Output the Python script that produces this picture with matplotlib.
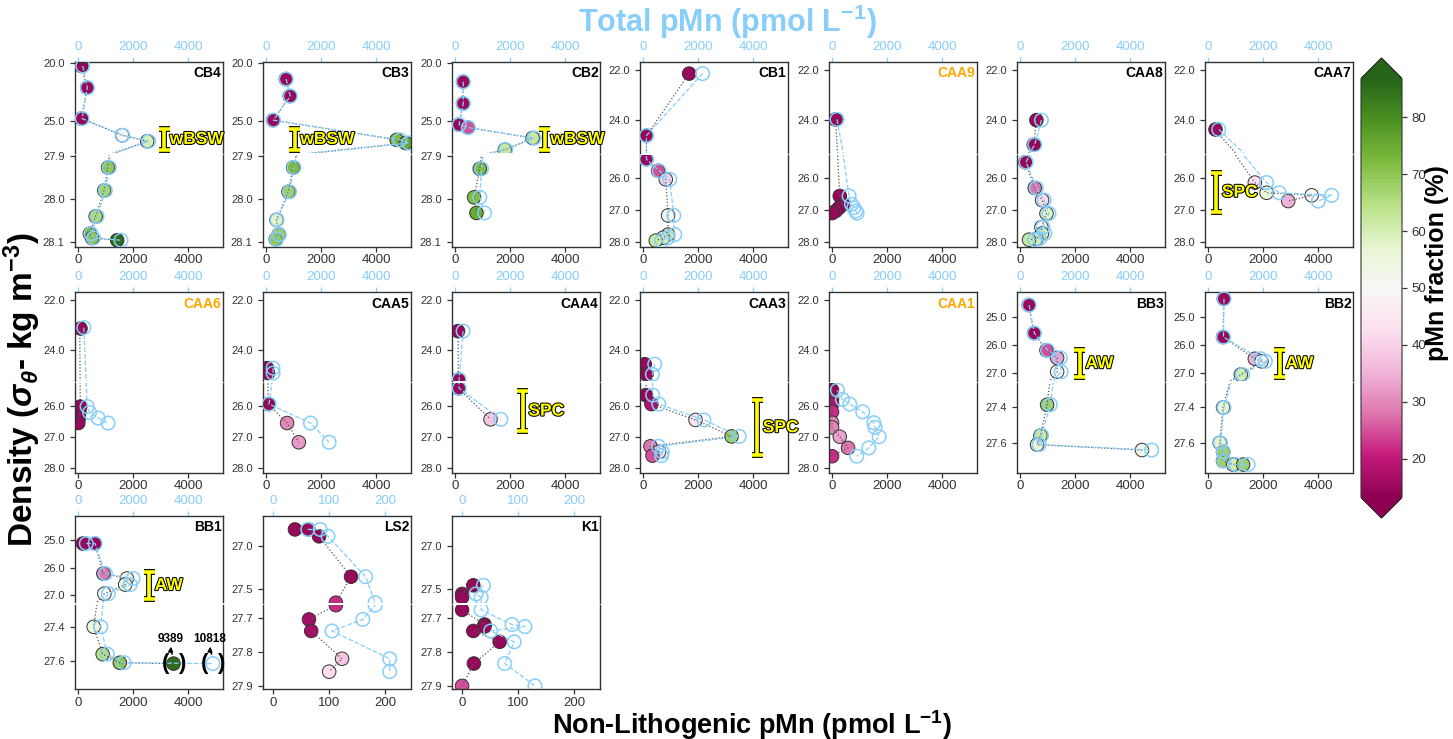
import matplotlib
matplotlib.use('Agg')
import matplotlib.pyplot as plt
import matplotlib.patheffects as pe
import numpy as np

plt.rcParams['font.family'] = ['Liberation Sans', 'DejaVu Sans']
plt.rcParams['mathtext.fontset'] = 'custom'
plt.rcParams['mathtext.rm'] = 'Liberation Sans:bold'
plt.rcParams['mathtext.it'] = 'Liberation Sans:bold:italic'
plt.rcParams['mathtext.bf'] = 'Liberation Sans:bold'

# ---------------- data (density, non-lithogenic pMn, total pMn, pMn fraction) -------------
cb4_dens = [20.23, 22.11, 24.77, 26.21, 26.73, 27.927, 27.98, 28.04, 28.08, 28.09, 28.095]
cb4_nl = [120, 330, 120, 1600, 2510, 1090, 950, 640, 430, 510, 1420]
cb4_tot = [170, 340, 150, 1620, 2560, 1130, 990, 690, 470, 560, 1560]
cb4_frac = [15, 15, 15, 50, 60, 70, 67, 66, 72, 70, 85]

cb3_dens = [21.36, 22.83, 24.91, 26.61, 26.88, 27.927, 27.983, 28.048, 28.082, 28.093]
cb3_nl = [716, 862, 255, 4740, 5068, 982, 814, 378, 462, 353]
cb3_tot = [730, 880, 270, 4850, 5180, 1010, 850, 400, 480, 380]
cb3_frac = [15, 15, 15, 72, 75, 72, 68, 58, 68, 70]

cb2_dens = [21.59, 23.47, 25.3, 25.55, 26.45, 27.46, 27.93, 27.996, 28.032]
cb2_nl = [291, 291, 135, 473, 2814, 1807, 898, 691, 778]
cb2_tot = [300, 300, 150, 480, 2870, 1840, 960, 900, 1070]
cb2_frac = [15, 15, 15, 25, 62, 62, 72, 72, 75]

cb1_dens = [22.15, 24.6, 25.42, 25.78, 26.05, 27.18, 27.78, 27.88, 27.97]
cb1_nl = [1673, 124, 124, 545, 825, 909, 909, 727, 462]
cb1_tot = [2160, 124, 124, 580, 970, 1116, 1150, 900, 680]
cb1_frac = [15, 15, 15, 25, 40, 52, 60, 60, 62]

caa9_dens = [23.96, 26.57, 26.83, 26.94, 27.04, 27.11]
caa9_nl = [124, 280, 400, 255, 135, 0]
caa9_tot = [180, 618, 705, 789, 862, 909]
caa9_frac = [15, 15, 15, 15, 15, 15]

caa8_dens = [23.99, 24.96, 25.51, 26.32, 26.7, 27.12, 27.55, 27.75, 27.91, 27.94]
caa8_nl = [594, 497, 194, 533, 800, 960, 776, 800, 594, 327]
caa8_tot = [776, 535, 220, 590, 875, 1050, 830, 900, 700, 535]
caa8_frac = [15, 15, 15, 28, 42, 58, 50, 60, 60, 62]

caa7_dens = [24.36, 26.15, 26.47, 26.55, 26.73]
caa7_nl = [244, 1698, 2124, 3760, 2909]
caa7_tot = [390, 2124, 2582, 4487, 4000]
caa7_frac = [15, 42, 55, 50, 35]

caa6_dens = [23.11, 26.03, 26.22, 26.4, 26.56]
caa6_nl = [62, 80, 50, 30, 10]
caa6_tot = [210, 330, 420, 730, 1090]
caa6_frac = [15, 15, 15, 15, 15]

caa5_dens = [24.75, 24.95, 25.95, 26.56, 27.18]
caa5_nl = [36, 73, 73, 764, 1189]
caa5_tot = [255, 255, 110, 1614, 2290]
caa5_frac = [15, 15, 15, 30, 32]

caa4_dens = [23.25, 25.21, 25.44, 26.44]
caa4_nl = [109, 120, 120, 1287]
caa4_tot = [291, 150, 150, 1662]
caa4_frac = [15, 15, 15, 38]

caa3_dens = [24.59, 25.0, 25.66, 25.95, 26.46, 26.99, 27.31, 27.49, 27.61]
caa3_nl = [62, 124, 100, 305, 1905, 3214, 269, 582, 342]
caa3_tot = [425, 340, 350, 570, 2207, 3491, 560, 700, 669]
caa3_frac = [15, 15, 15, 18, 45, 68, 28, 45, 25]

caa1_dens = [25.5, 25.8, 25.95, 26.2, 26.55, 26.7, 27.0, 27.36, 27.63]
caa1_nl = [0, 0, 0, 0, 0, 0, 280, 582, 0]
caa1_tot = [195, 376, 643, 1115, 1515, 1560, 1709, 1333, 897]
caa1_frac = [15, 18, 18, 22, 30, 30, 33, 28, 22]

bb3_dens = [24.57, 25.57, 26.18, 26.45, 26.94, 27.39, 27.56, 27.61, 27.64]
bb3_nl = [316, 509, 960, 1345, 1345, 982, 740, 618, 4425]
bb3_tot = [330, 520, 1000, 1460, 1490, 1100, 780, 690, 4778]
bb3_frac = [15, 15, 25, 33, 50, 68, 62, 56, 53]

bb2_dens = [24.35, 25.71, 26.48, 26.57, 27.04, 27.405, 27.6, 27.65, 27.70, 27.72, 27.72]
bb2_nl = [571, 545, 1698, 1940, 1190, 545, 425, 545, 545, 909, 1273]
bb2_tot = [580, 560, 1900, 2080, 1250, 580, 450, 560, 570, 1000, 1455]
bb2_frac = [15, 15, 35, 50, 60, 57, 57, 68, 68, 60, 68]

bb1_dens = [25.13, 25.13, 26.22, 26.4, 26.62, 26.95, 27.4, 27.56, 27.61, 27.615]
bb1_nl = [178, 607, 920, 1775, 1712, 956, 567, 894, 1516, 3465]
bb1_tot = [300, 620, 990, 2000, 1895, 1100, 825, 1060, 1673, 4894]
bb1_frac = [15, 15, 28, 50, 55, 50, 55, 65, 70, 85]

ls2_dens = [26.81, 26.81, 26.89, 27.36, 27.662, 27.704, 27.738, 27.82, 27.858]
ls2_nl = [39, 63, 82, 139, 112, 64, 68, 123, 100]
ls2_tot = [62, 84, 98, 165, 182, 160, 105, 208, 208]
ls2_frac = [15, 15, 15, 15, 22, 17, 17, 38, 42]

k1_dens = [27.46, 27.56, 27.6, 27.676, 27.719, 27.725, 27.738, 27.77, 27.834, 27.9]
k1_nl = [20, 0, 0, 0, 40, 40, 20, 67, 21, 0]
k1_tot = [38, 25, 34, 34, 89, 112, 51, 93, 76, 130]
k1_frac = [15, 15, 15, 15, 15, 15, 15, 15, 15, 25]

# off-scale values in BB1 (true values written above the bracketed markers)
bb1_offscale = ['9389', '10818']

# name, row, col, data, y-type, x-type, label colour
stations = [
    ('CB4', 0, 0, cb4_dens, cb4_nl, cb4_tot, cb4_frac, 'A', 'big', 'black'),
    ('CB3', 0, 1, cb3_dens, cb3_nl, cb3_tot, cb3_frac, 'A', 'big', 'black'),
    ('CB2', 0, 2, cb2_dens, cb2_nl, cb2_tot, cb2_frac, 'A', 'big', 'black'),
    ('CB1', 0, 3, cb1_dens, cb1_nl, cb1_tot, cb1_frac, 'C', 'big', 'black'),
    ('CAA9', 0, 4, caa9_dens, caa9_nl, caa9_tot, caa9_frac, 'C', 'big', 'orange'),
    ('CAA8', 0, 5, caa8_dens, caa8_nl, caa8_tot, caa8_frac, 'C', 'big', 'black'),
    ('CAA7', 0, 6, caa7_dens, caa7_nl, caa7_tot, caa7_frac, 'C', 'big', 'black'),
    ('CAA6', 1, 0, caa6_dens, caa6_nl, caa6_tot, caa6_frac, 'C', 'big', 'orange'),
    ('CAA5', 1, 1, caa5_dens, caa5_nl, caa5_tot, caa5_frac, 'C', 'big', 'black'),
    ('CAA4', 1, 2, caa4_dens, caa4_nl, caa4_tot, caa4_frac, 'C', 'big', 'black'),
    ('CAA3', 1, 3, caa3_dens, caa3_nl, caa3_tot, caa3_frac, 'C', 'big', 'black'),
    ('CAA1', 1, 4, caa1_dens, caa1_nl, caa1_tot, caa1_frac, 'C', 'big', 'orange'),
    ('BB3', 1, 5, bb3_dens, bb3_nl, bb3_tot, bb3_frac, 'B', 'big', 'black'),
    ('BB2', 1, 6, bb2_dens, bb2_nl, bb2_tot, bb2_frac, 'B', 'big', 'black'),
    ('BB1', 2, 0, bb1_dens, bb1_nl, bb1_tot, bb1_frac, 'B', 'big', 'black'),
    ('LS2', 2, 1, ls2_dens, ls2_nl, ls2_tot, ls2_frac, 'L', 'small', 'black'),
    ('K1', 2, 2, k1_dens, k1_nl, k1_tot, k1_frac, 'L', 'small', 'black'),
]

# water mass brackets: station, label, x, y0, y1
brackets = [
    ('CB4', 'wBSW', 3127, 25.63, 27.51),
    ('CB3', 'wBSW', 1044, 25.63, 27.51),
    ('CB2', 'wBSW', 3262, 25.63, 27.51),
    ('CAA7', 'SPC', 305, 25.84, 27.07),
    ('CAA4', 'SPC', 2462, 25.53, 26.82),
    ('CAA3', 'SPC', 4145, 25.82, 27.6),
    ('BB3', 'AW', 2171, 26.18, 27.13),
    ('BB2', 'AW', 2607, 26.18, 27.13),
    ('BB1', 'AW', 2582, 26.17, 27.14),
]

# broken y-axis settings: top, upper-bottom, lower-top, bottom
ytypes = {
    'A': (19.86, 27.7, 27.897, 28.11, [20, 25], [27.9, 28.0, 28.1]),
    'C': (21.68, 25.27, 25.27, 28.16, [22, 24], [26, 27, 28]),
    'B': (24.12, 27.27, 27.27, 27.765, [25, 26, 27], [27.4, 27.6]),
    'L': (26.65, 27.66, 27.66, 27.91, [27.0, 27.5], [27.7, 27.8, 27.9]),
}
xtypes = {
    'big': ((-110, 5260), [0, 2000, 4000]),
    'small': ((-18, 246), [0, 100, 200]),
}

W, H = 1453, 739
fig = plt.figure(figsize=(W / 100, H / 100), dpi=100)

blue = '#87CEFA'
dark = '#333333'
cmap = plt.get_cmap('PiYG')
norm = plt.Normalize(13.3, 86.7)

col_left = [75, 263, 452, 640, 829, 1017, 1205]
pw = 148
rows_px = [(61.7, 152.5, 154.5, 246.7), (292.3, 381, 383, 472.7), (515.7, 602.5, 604.5, 689.3)]


def px_axes(x0, y0, x1, y1):
    return fig.add_axes([x0 / W, 1 - y1 / H, (x1 - x0) / W, (y1 - y0) / H])


def style(ax):
    for s in ax.spines.values():
        s.set_color(dark)
        s.set_linewidth(1.0)
    ax.tick_params(axis='y', labelsize=8, colors=dark, length=3.5, width=0.9, pad=4)


axes_by_name = {}
for name, r, c, dens, nl, tot, frac, yt, xt, lc in stations:
    top, ub, lt, bot, uticks, lticks = ytypes[yt]
    xl, xt_ticks = xtypes[xt]
    t_px, ub_px, lt_px, b_px = rows_px[r]
    left = col_left[c]
    ax_u = px_axes(left, t_px, left + pw, ub_px)
    ax_l = px_axes(left, lt_px, left + pw, b_px)
    d = np.array(dens)
    n = np.array(nl)
    t = np.array(tot)
    f = np.array(frac)
    # markers only in the part of the broken axis where they belong
    sel_u = d <= ub + 0.005
    sel_l = d >= lt - 0.005
    for ax, sel in ((ax_u, sel_u), (ax_l, sel_l)):
        style(ax)
        ax.scatter(n[sel], d[sel], c=f[sel], cmap=cmap, norm=norm, s=95,
                   edgecolors=dark, linewidths=0.7, zorder=2)
        ax.plot(nl, dens, ls=':', color='#555555', lw=0.9, zorder=3)
        ax.scatter(t[sel], d[sel], facecolors='none', edgecolors=blue, s=95,
                   linewidths=1.1, zorder=4)
        ax.plot(tot, dens, ls='--', color=blue, lw=0.9, zorder=4)
        ax.set_xlim(xl)
        ax.set_xticks(xt_ticks)
    ax_u.set_ylim(ub, top)
    ax_l.set_ylim(bot, lt)
    ax_u.set_yticks(uticks)
    ax_l.set_yticks(lticks)
    ax_u.set_yticklabels(['%.1f' % v for v in uticks])
    ax_l.set_yticklabels(['%.1f' % v for v in lticks])
    ax_u.spines['bottom'].set_visible(False)
    ax_l.spines['top'].set_visible(False)
    ax_u.xaxis.set_ticks_position('top')
    ax_u.tick_params(axis='x', colors=blue, labelsize=9.5, length=3.5, width=0.9, pad=3)
    ax_l.tick_params(axis='x', colors=dark, labelsize=9.5, length=3.5, width=0.9, pad=2)
    ax_u.text(0.99, 0.95, name, transform=ax_u.transAxes, ha='right', va='top',
              fontsize=10, fontweight='bold', color=lc)
    axes_by_name[name] = (ax_u, ax_l, ub)

# water mass brackets
for name, label, x, y0, y1 in brackets:
    ax_u, ax_l, ub = axes_by_name[name]
    ax = ax_u if y1 <= ub else ax_l
    w = 200
    xs = [x - w, x + w, np.nan, x, x, np.nan, x - w, x + w]
    ys = [y0, y0, np.nan, y0, y1, np.nan, y1, y1]
    ax.plot(xs, ys, color='yellow', lw=2.6, solid_capstyle='butt', zorder=6,
            path_effects=[pe.Stroke(linewidth=4.2, foreground='black'), pe.Normal()])
    ax.text(x + 200, (y0 + y1) / 2, label, ha='left', va='center', fontsize=12.5,
            fontweight='bold', color='yellow', zorder=7,
            path_effects=[pe.withStroke(linewidth=1.5, foreground='black')])

# off-scale markers in BB1
ax_l = axes_by_name['BB1'][1]
for xv, yv, txt in [(bb1_nl[-1], bb1_dens[-1], bb1_offscale[0]),
                    (bb1_tot[-1], bb1_dens[-1], bb1_offscale[1])]:
    ax_l.text(xv - 300, yv, '(', ha='center', va='center', fontsize=16, fontweight='bold', zorder=8)
    ax_l.text(xv + 300, yv, ')', ha='center', va='center', fontsize=16, fontweight='bold', zorder=8)
    ax_l.text(xv - 100, 27.47, txt, ha='center', va='center', fontsize=8.5, fontweight='bold', zorder=8)
    ax_l.annotate('', xy=(xv - 80, 27.50), xytext=(xv, 27.575),
                  arrowprops=dict(arrowstyle='-|>', lw=1.0, color='black', mutation_scale=7,
                                  connectionstyle='arc3,rad=-0.2'), zorder=8)

# colorbar
cax = px_axes(1361, 58, 1402, 518)
sm = matplotlib.cm.ScalarMappable(norm=norm, cmap=cmap)
cb = fig.colorbar(sm, cax=cax, extend='both', ticks=[20, 30, 40, 50, 60, 70, 80])
cb.outline.set_edgecolor(dark)
cb.outline.set_linewidth(0.8)
cb.ax.tick_params(labelsize=9.5, colors=dark, length=3.5, width=0.9)
cb.set_label('pMn fraction (%)', fontsize=18, fontweight='bold')
cb.ax.yaxis.set_label_coords(1.55, 0.56)

# global labels
fig.text(727 / W, 1 - 22 / H, 'Total pMn (pmol L$^{-1}$)', ha='center', va='center',
         fontsize=22, fontweight='bold', color=blue)
fig.text(752 / W, 1 - 725 / H, 'Non-Lithogenic pMn (pmol L$^{-1}$)', ha='center', va='center',
         fontsize=19.5, fontweight='bold', color='black')
fig.text(22 / W, 1 - 390 / H, r'Density ($\sigma_{\theta}$- kg m$^{-3}$)', ha='center', va='center',
         rotation=90, fontsize=24, fontweight='bold', color='black')

fig.savefig('out.png', dpi=100)
